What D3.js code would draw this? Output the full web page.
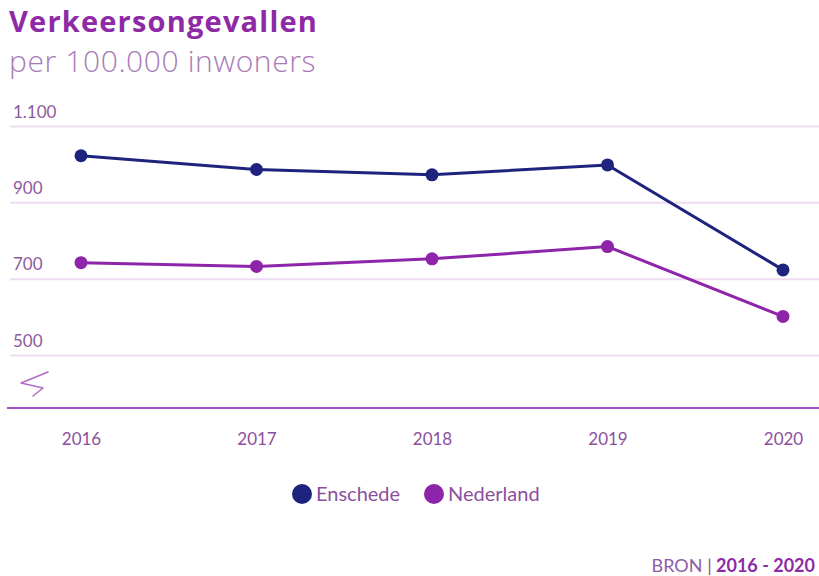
<!DOCTYPE html>
<html>
<head>
<meta charset="utf-8">
<script src="https://cdn.jsdelivr.net/npm/d3@7"></script>
<style>
  html, body { margin: 0; padding: 0; background: #fff; }
  svg { display: block; font-family: Lato, "Open Sans", sans-serif; }
</style>
</head>
<body>
<svg id="chart" width="819" height="576"></svg>
<script>
// Road accidents per 100,000 inhabitants
const years = ["2016", "2017", "2018", "2019", "2020"];
const enschede = [1022, 986, 972, 998, 723];
const nederland = [742, 732, 752, 784, 601];
const yTicks = [500, 700, 900, 1100];
const seriesNames = ["Enschede", "Nederland"];
const seriesColors = ["#1e237e", "#8e24aa"];

const svg = d3.select("#chart");

const x = d3.scalePoint().domain(years).range([81, 783]);
const y = d3.scaleLinear().domain([500, 1100]).range([355, 126]);
const fmt = v => d3.format(",")(v).replace(/,/g, ".");

// title
svg.append("text").attr("x", 9).attr("y", 32)
  .attr("font-size", 29).attr("font-weight", 700).attr("fill", "#8e2aa6")
  .attr("letter-spacing", 1.2)
  .style("font-family", "'Open Sans', sans-serif")
  .text("Verkeersongevallen");
svg.append("text").attr("x", 9).attr("y", 72)
  .attr("font-size", 30).attr("font-weight", 300).attr("fill", "#a77bb6")
  .attr("letter-spacing", 0.6)
  .style("font-family", "'Open Sans', sans-serif")
  .text("per 100.000 inwoners");

// gridlines + labels
const yAxis = d3.axisRight(y).tickValues(yTicks).tickSize(809).tickFormat(fmt);
const gy = svg.append("g").attr("transform", "translate(10,0)").call(yAxis);
gy.select(".domain").remove();
gy.selectAll(".tick line").attr("stroke", "#efdcf4").attr("stroke-width", 2);
gy.selectAll(".tick text")
  .attr("x", 3).attr("dy", -9).attr("text-anchor", "start")
  .attr("font-size", 17).attr("fill", "#8c5aa0").style("font-family", "Lato, sans-serif");

// axis break marker
svg.append("path")
  .attr("d", "M48,372 L21,383 L43,388 L33,396")
  .attr("fill", "none").attr("stroke", "#b26cc8").attr("stroke-width", 1.6)
  .attr("stroke-linejoin", "round").attr("stroke-linecap", "round");

// x axis
const xAxis = d3.axisBottom(x).tickSize(0).tickPadding(25);
const gx = svg.append("g").attr("transform", "translate(0,408)").call(xAxis);
gx.select(".domain").remove();
gx.append("line").attr("x1", 7).attr("x2", 819).attr("y1", 0).attr("y2", 0)
  .attr("stroke", "#a64fc2").attr("stroke-width", 2);
gx.selectAll(".tick text").attr("font-size", 17).attr("fill", "#8c4f9e")
  .style("font-family", "Lato, sans-serif");

// series
const line = d3.line().x((d, i) => x(years[i])).y(d => y(d));
[enschede, nederland].forEach((vals, si) => {
  svg.append("path").datum(vals).attr("d", line)
    .attr("fill", "none").attr("stroke", seriesColors[si]).attr("stroke-width", 3);
  svg.append("g").selectAll("circle").data(vals).join("circle")
    .attr("cx", (d, i) => x(years[i])).attr("cy", d => y(d)).attr("r", 6.5)
    .attr("fill", seriesColors[si]);
});

// legend
const legendX = [302, 434];
seriesNames.forEach((name, i) => {
  svg.append("circle").attr("cx", legendX[i]).attr("cy", 494).attr("r", 10)
    .attr("fill", seriesColors[i]);
  svg.append("text").attr("x", legendX[i] + 14).attr("y", 501)
    .attr("font-size", 20).attr("fill", "#8c4f9e").text(name);
});

// source
const src = svg.append("text").attr("x", 815).attr("y", 572).attr("text-anchor", "end")
  .attr("font-size", 18).attr("fill", "#8e5ca6");
src.append("tspan").text("BRON ");
src.append("tspan").attr("fill", "#8b4aa3").text("|");
src.append("tspan").attr("font-weight", 700).attr("fill", "#8e2aa6").text(" 2016 - 2020");
</script>
</body>
</html>
